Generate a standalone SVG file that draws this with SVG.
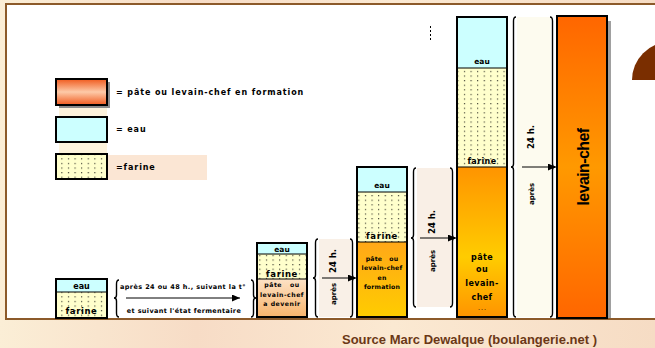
<svg xmlns="http://www.w3.org/2000/svg" width="655" height="348" viewBox="0 0 655 348">
<defs>
<linearGradient id="bg" x1="0" y1="0" x2="1" y2="0">
<stop offset="0" stop-color="#fbeed6"/>
<stop offset="0.3" stop-color="#f7dcc6"/>
<stop offset="0.6" stop-color="#fbe9d2"/>
<stop offset="1" stop-color="#f6dcc4"/>
</linearGradient>
<linearGradient id="legOrange" x1="0" y1="0" x2="0" y2="1">
<stop offset="0" stop-color="#f05a1e"/>
<stop offset="0.5" stop-color="#fdcaa8"/>
<stop offset="1" stop-color="#f05a1e"/>
</linearGradient>
<linearGradient id="pate2" x1="0" y1="0" x2="0" y2="1">
<stop offset="0" stop-color="#fde2c6"/>
<stop offset="1" stop-color="#f8b46c"/>
</linearGradient>
<linearGradient id="pate3" x1="0" y1="0" x2="0" y2="1">
<stop offset="0" stop-color="#ffa818"/>
<stop offset="1" stop-color="#ffcc00"/>
</linearGradient>
<linearGradient id="pate4" x1="0" y1="0" x2="0" y2="1">
<stop offset="0" stop-color="#ff9400"/>
<stop offset="0.6" stop-color="#ffcc00"/>
<stop offset="1" stop-color="#ff9400"/>
</linearGradient>
<linearGradient id="levain" x1="0" y1="0" x2="0" y2="1">
<stop offset="0" stop-color="#ff6600"/>
<stop offset="0.5" stop-color="#ff9900"/>
<stop offset="1" stop-color="#ff6600"/>
</linearGradient>
<pattern id="dots" patternUnits="userSpaceOnUse" width="6.6" height="4.6" x="0" y="0">
<rect width="6.6" height="4.6" fill="#ffffcc"/>
<rect x="2" y="2" width="1" height="1" fill="#000"/>
</pattern>
<marker id="arr" markerUnits="userSpaceOnUse" markerWidth="8" markerHeight="7" refX="8" refY="3.5" orient="auto">
<path d="M0,0 L8,3.5 L0,7 z" fill="#000"/>
</marker>
</defs>
<style>
.box{stroke:#000;stroke-width:2}
.sep{stroke:#000;stroke-width:1}
.eau{fill:#ccffff}
.far{fill:url(#dots)}
.t{font-family:"DejaVu Sans",sans-serif;font-weight:bold;fill:#000}
.c{text-anchor:middle}
.leg{font-size:8px;letter-spacing:0.9px}
.brace{fill:none;stroke:#000;stroke-width:1.4}
.arrow{stroke:#000;stroke-width:1;marker-end:url(#arr)}
</style>

<rect x="0" y="0" width="655" height="348" fill="url(#bg)"/>
<rect x="6" y="4" width="700" height="315" fill="#fff" stroke="#8c5a2a" stroke-width="2"/>

<!-- background bleed patches -->
<rect x="59" y="105" width="48" height="12" fill="#fdf3dc"/>
<rect x="59" y="142" width="48" height="12" fill="#fdf3dc"/>
<rect x="107" y="155" width="100" height="25" fill="#fbe6d4"/>
<rect x="319" y="239" width="32" height="78" fill="#f9f0e7"/>
<rect x="417" y="168" width="34" height="139" fill="#f9efe6"/>
<rect x="517" y="17" width="34" height="300" fill="#fdfbef"/>
<line x1="430.5" y1="26" x2="430.5" y2="40" stroke="#000" stroke-width="1" stroke-dasharray="2,2"/>
<path d="M632,80 A38,38 0 0 1 670,42 L670,80 Z" fill="#7a2e00"/>

<g id="legend-pate">
<rect x="59" y="82" width="51" height="26" fill="#8a8a8a"/>
<rect class="box" x="56" y="79" width="51" height="26" fill="url(#legOrange)"/>
<text class="t leg" x="116" y="95">= pâte ou levain-chef en formation</text>
</g>
<g id="legend-eau">
<rect class="box eau" x="56" y="117" width="51" height="25"/>
<text class="t leg" x="116" y="132">= eau</text>
</g>
<g id="legend-farine">
<rect class="box far" x="56" y="154" width="51" height="25"/>
<text class="t leg" x="116" y="170">=farine</text>
</g>

<g id="box1">
<rect class="eau" x="56" y="279" width="51" height="13"/>
<rect class="far" x="56" y="292" width="51" height="26"/>
<line class="sep" x1="56" y1="292" x2="107" y2="292"/>
<rect class="box" x="56" y="279" width="51" height="39" fill="none"/>
<text class="t c" x="81.5" y="288.5" font-size="8">eau</text>
<text class="t c" x="81.5" y="314" font-size="8.5" letter-spacing="0.6">farine</text>
</g>

<g id="box2">
<rect class="eau" x="257" y="243" width="50" height="11"/>
<rect class="far" x="257" y="254" width="50" height="25"/>
<rect x="257" y="279" width="50" height="38" fill="url(#pate2)"/>
<line class="sep" x1="257" y1="254" x2="307" y2="254"/>
<line class="sep" x1="257" y1="279" x2="307" y2="279"/>
<rect class="box" x="257" y="243" width="50" height="74" fill="none"/>
<text class="t c" x="282" y="251.5" font-size="7.5">eau</text>
<text class="t c" x="282" y="277" font-size="8.5" letter-spacing="0.6">farine</text>
<text class="t c" x="282" y="287" font-size="6.2" letter-spacing="0.5">pâte&#160;&#160;&#160;ou</text>
<text class="t c" x="282" y="297" font-size="6.2" letter-spacing="0.5">levain-chef</text>
<text class="t c" x="282" y="306" font-size="6.2" letter-spacing="0.5">a devenir</text>
</g>

<g id="box3">
<rect class="eau" x="357" y="167" width="50" height="25"/>
<rect class="far" x="357" y="192" width="50" height="50"/>
<rect x="357" y="242" width="50" height="75" fill="url(#pate3)"/>
<line class="sep" x1="357" y1="192" x2="407" y2="192"/>
<line class="sep" x1="357" y1="242" x2="407" y2="242"/>
<rect class="box" x="357" y="167" width="50" height="150" fill="none"/>
<text class="t c" x="382" y="188" font-size="7.5">eau</text>
<text class="t c" x="382" y="238.5" font-size="8.5" letter-spacing="0.6">farine</text>
<text class="t c" x="382" y="260.5" font-size="6.2" letter-spacing="0.2">pâte&#160;&#160;&#160;ou</text>
<text class="t c" x="382" y="270" font-size="6.2" letter-spacing="0.2">levain-chef</text>
<text class="t c" x="382" y="279.5" font-size="6.2" letter-spacing="0.2">en</text>
<text class="t c" x="382" y="289" font-size="6.2" letter-spacing="0.2">formation</text>
</g>

<g id="box4">
<rect class="eau" x="457" y="17" width="50" height="51"/>
<rect class="far" x="457" y="68" width="50" height="99"/>
<rect x="457" y="167" width="50" height="150" fill="url(#pate4)"/>
<line class="sep" x1="457" y1="68" x2="507" y2="68"/>
<line class="sep" x1="457" y1="167" x2="507" y2="167"/>
<rect class="box" x="457" y="17" width="50" height="300" fill="none"/>
<text class="t c" x="482" y="64" font-size="7.5">eau</text>
<text class="t c" x="482" y="164" font-size="8" letter-spacing="0.4">farine</text>
<text class="t c" x="482" y="260" font-size="8" letter-spacing="0.4">pâte</text>
<text class="t c" x="482" y="272" font-size="8" letter-spacing="0.4">ou</text>
<text class="t c" x="482" y="286" font-size="8" letter-spacing="0.4">levain-</text>
<text class="t c" x="482" y="300" font-size="8" letter-spacing="0.4">chef</text>
<text class="t c" x="482" y="310" font-size="4" fill="#555">. . .</text>
</g>

<g id="box5">
<rect x="561" y="21" width="50" height="297" fill="#a0a0a0"/>
<rect class="box" x="557" y="16" width="50" height="302" fill="url(#levain)"/>
<text transform="translate(583,167) rotate(-90)" x="0" y="6" text-anchor="middle" font-family="'Liberation Sans',Arial,sans-serif" font-weight="bold" font-size="16" letter-spacing="-0.6" fill="#000">levain-chef</text>
</g>

<g id="connectors">
<path class="brace" d="M119 280 Q116.5 280 116.5 284 L116.5 295 Q116.5 298 114 298 Q116.5 298 116.5 301 L116.5 313 Q116.5 317 119 317"/>
<path class="brace" d="M251 280 Q253.5 280 253.5 284 L253.5 295 Q253.5 298 256 298 Q253.5 298 253.5 301 L253.5 313 Q253.5 317 251 317"/>
<line class="arrow" x1="126" y1="298" x2="240" y2="298"/>
<text class="t c" x="183" y="289" font-size="6.5" letter-spacing="0.4">après 24 ou 48 h., suivant la t°</text>
<text class="t c" x="184" y="313" font-size="6.5" letter-spacing="0.35">et suivant l'état fermentaire</text>

<path class="brace" d="M318 239 Q315.5 239 315.5 243 L315.5 275 Q315.5 278 313 278 Q315.5 278 315.5 281 L315.5 313 Q315.5 317 318 317"/>
<path class="brace" d="M350 239 Q352.5 239 352.5 243 L352.5 275 Q352.5 278 355 278 Q352.5 278 352.5 281 L352.5 313 Q352.5 317 350 317"/>
<line class="arrow" x1="322" y1="278" x2="356" y2="278"/>
<text class="t c" transform="translate(333,261) rotate(-90)" x="0" y="3" font-size="8.5">24 h.</text>
<text class="t c" transform="translate(333,294) rotate(-90)" x="0" y="2.5" font-size="7">après</text>

<path class="brace" d="M416 168 Q413.5 168 413.5 172 L413.5 235 Q413.5 238 411 238 Q413.5 238 413.5 241 L413.5 303 Q413.5 307 416 307"/>
<path class="brace" d="M450 168 Q452.5 168 452.5 172 L452.5 235 Q452.5 238 455 238 Q452.5 238 452.5 241 L452.5 303 Q452.5 307 450 307"/>
<line class="arrow" x1="420" y1="238" x2="456" y2="238"/>
<text class="t c" transform="translate(432,222) rotate(-90)" x="0" y="3" font-size="8.5">24 h.</text>
<text class="t c" transform="translate(432,261) rotate(-90)" x="0" y="2.5" font-size="7">après</text>

<path class="brace" d="M516 17 Q513.5 17 513.5 21 L513.5 164 Q513.5 167 511 167 Q513.5 167 513.5 170 L513.5 313 Q513.5 317 516 317"/>
<path class="brace" d="M550 17 Q552.5 17 552.5 21 L552.5 164 Q552.5 167 555 167 Q552.5 167 552.5 170 L552.5 313 Q552.5 317 550 317"/>
<line class="arrow" x1="522" y1="167" x2="556" y2="167"/>
<text class="t c" transform="translate(531,137) rotate(-90)" x="0" y="3" font-size="8.5">24 h.</text>
<text class="t c" transform="translate(531,194) rotate(-90)" x="0" y="2.5" font-size="7">après</text>
</g>

<text x="342" y="344" font-family="'Liberation Sans',Arial,sans-serif" font-weight="bold" font-size="13" fill="#6b3816">Source Marc Dewalque (boulangerie.net )</text>
</svg>
